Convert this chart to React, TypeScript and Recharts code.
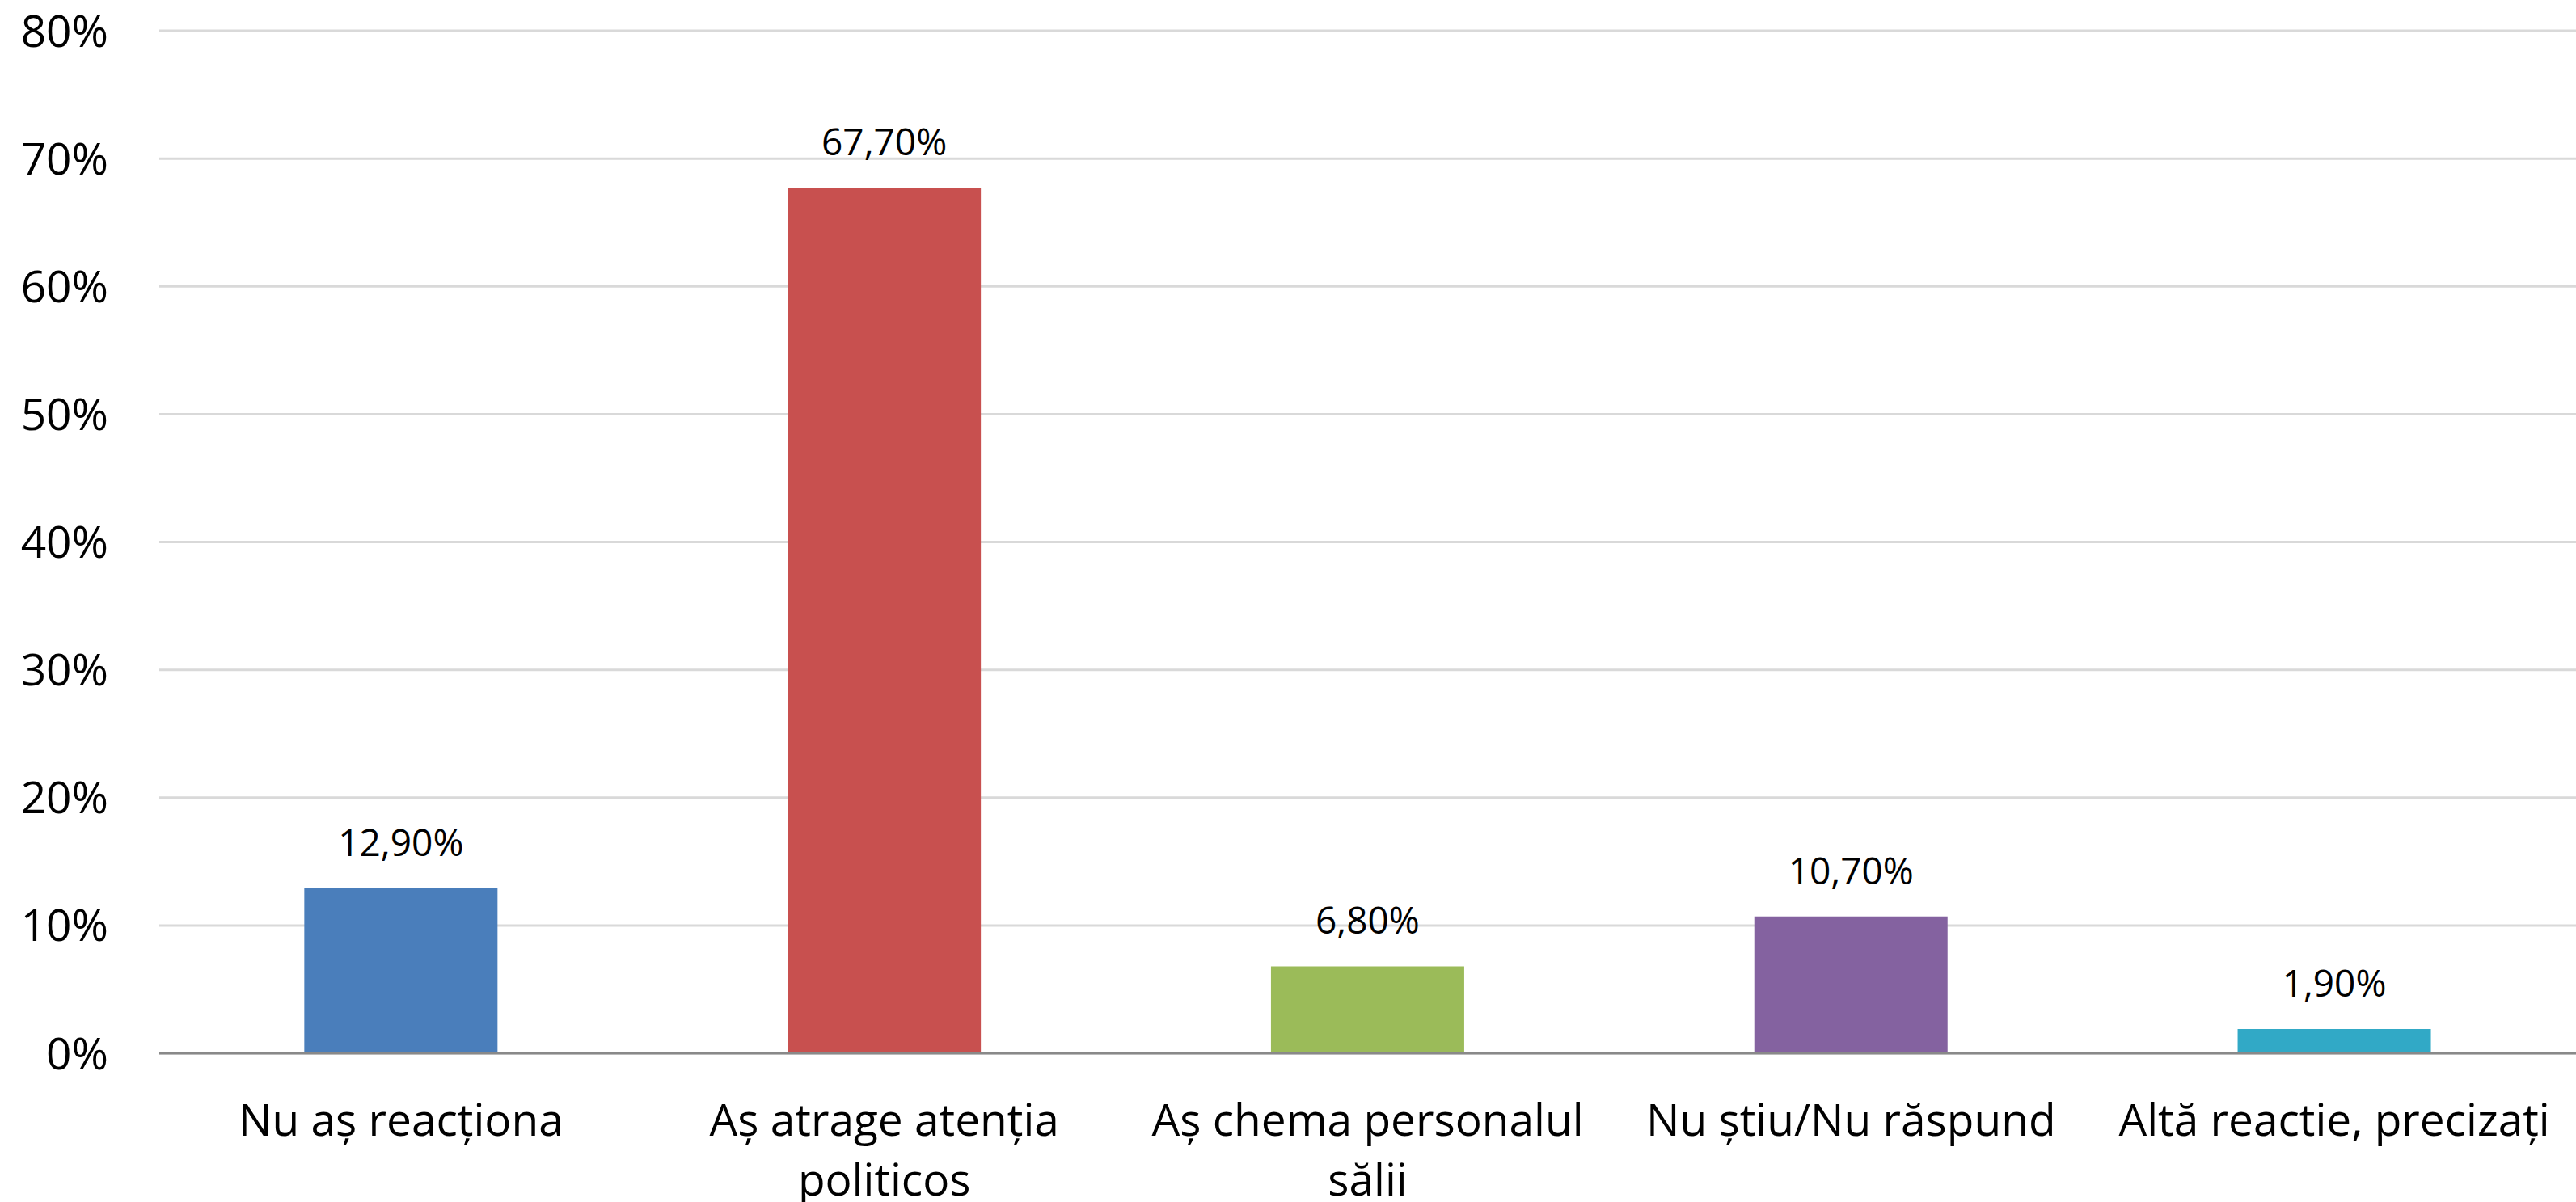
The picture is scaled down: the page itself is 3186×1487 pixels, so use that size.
import React from 'react';
import { BarChart, Bar, XAxis, YAxis, CartesianGrid, Cell, LabelList } from 'recharts';

const categories = [
  'Nu aș reacționa',
  'Aș atrage atenția politicos',
  'Aș chema personalul sălii',
  'Nu știu/Nu răspund',
  'Altă reactie, precizați',
];
const values = [12.9, 67.7, 6.8, 10.7, 1.9];
const barColors = ['#4A7EBB', '#C8504F', '#9BBB59', '#8462A0', '#31A9C6'];
const yTicks = [0, 10, 20, 30, 40, 50, 60, 70, 80];

const data = categories.map((name, i) => ({ name, value: values[i] }));

const FONT = '"Open Sans", sans-serif';
const CAT_SIZE = 55;
const WRAP_WIDTH = 590;

let ctx: CanvasRenderingContext2D | null = null;
function measure(s: string): number {
  if (!ctx) {
    const c = document.createElement('canvas');
    ctx = c.getContext('2d');
  }
  if (!ctx) return s.length * CAT_SIZE * 0.55;
  ctx.font = `${CAT_SIZE}px ${FONT}`;
  return ctx.measureText(s).width;
}

function wrap(text: string): string[] {
  const words = text.split(' ');
  const lines: string[] = [];
  let cur = '';
  for (const w of words) {
    const cand = cur ? `${cur} ${w}` : w;
    if (cur && measure(cand) > WRAP_WIDTH) {
      lines.push(cur);
      cur = w;
    } else {
      cur = cand;
    }
  }
  if (cur) lines.push(cur);
  return lines;
}

function CategoryTick(props: any) {
  const { x, y, payload } = props;
  const lines = wrap(String(payload.value));
  return (
    <text
      x={x}
      y={y}
      textAnchor="middle"
      fontSize={CAT_SIZE}
      fontFamily={FONT}
      fill="#000"
    >
      {lines.map((l, i) => (
        <tspan key={i} x={x} dy={i === 0 ? 94 : 74}>
          {l}
        </tspan>
      ))}
    </text>
  );
}

const fmtLabel = (v: any) => `${Number(v).toFixed(2).replace('.', ',')}%`;

export default function App() {
  return (
    <div style={{ position: 'absolute', left: 0, top: 0, width: 3186, height: 1487, background: '#fff' }}>
      <BarChart
        width={3186}
        height={1487}
        data={data}
        margin={{ top: 38, right: 0, bottom: 0, left: 0 }}
        barCategoryGap="30%"
      >
        <CartesianGrid vertical={false} stroke="#D9D9D9" strokeWidth={3} />
        <XAxis
          dataKey="name"
          height={184}
          interval={0}
          tickLine={false}
          tickSize={6}
          tickMargin={2}
          axisLine={{ stroke: '#898989', strokeWidth: 3 }}
          tick={<CategoryTick />}
        />
        <YAxis
          width={197}
          domain={[0, 80]}
          ticks={yTicks}
          tickFormatter={(v: number) => `${v}%`}
          axisLine={false}
          tickLine={false}
          tickSize={6}
          tickMargin={57}
          tick={{ fontSize: 55, fontFamily: FONT, fill: '#000' }}
        />
        <Bar dataKey="value" isAnimationActive={false}>
          {data.map((d, i) => (
            <Cell key={d.name} fill={barColors[i]} />
          ))}
          <LabelList
            dataKey="value"
            position="top"
            offset={40}
            formatter={fmtLabel}
            fill="#000"
            fontSize={46}
            fontFamily={FONT}
          />
        </Bar>
      </BarChart>
    </div>
  );
}
